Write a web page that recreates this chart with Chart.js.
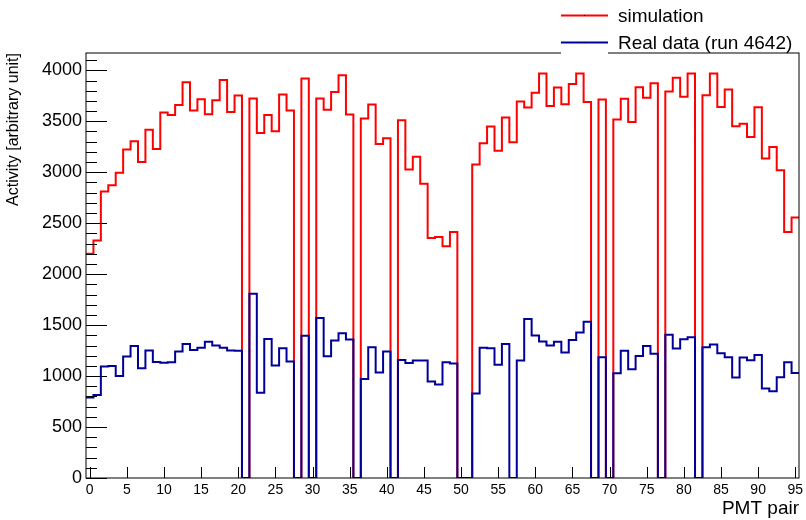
<!DOCTYPE html>
<html>
<head>
<meta charset="utf-8">
<script src="https://cdn.jsdelivr.net/npm/chart.js@4.4.1/dist/chart.umd.min.js"></script>
<style>
  html, body { margin: 0; padding: 0; background: #fff; }
  #wrap { width: 806px; height: 520px; }
</style>
</head>
<body>
<div id="wrap"><canvas id="c" width="806" height="520"></canvas></div>
<script>
// ---- data ----
const pmtPairs = [0,1,2,3,4,5,6,7,8,9,10,11,12,13,14,15,16,17,18,19,20,21,22,23,24,25,26,27,28,29,30,31,32,33,34,35,36,37,38,39,40,41,42,43,44,45,46,47,48,49,50,51,52,53,54,55,56,57,58,59,60,61,62,63,64,65,66,67,68,69,70,71,72,73,74,75,76,77,78,79,80,81,82,83,84,85,86,87,88,89,90,91,92,93,94,95];
const simulation = [2200,2330,2812,2872,2996,3222,3304,3101,3418,3229,3585,3562,3661,3883,3605,3716,3569,3706,3906,3592,3752,0,3723,3386,3562,3402,3762,3605,0,3919,0,3723,3612,3788,3952,3566,0,3527,3664,3277,3333,0,3510,3026,3153,2888,2354,2364,2275,2413,0,0,3075,3284,3448,3212,3536,3294,3694,3635,3779,3969,3651,3831,3667,3867,3969,3690,0,3713,0,3517,3720,3494,3834,3730,3873,0,3792,3926,3740,3969,0,3756,3969,3641,3811,3451,3477,3346,3638,3134,3248,3019,2413,2557];
const realData = [790,815,1094,1100,1002,1192,1294,1077,1251,1139,1130,1136,1241,1316,1257,1277,1336,1300,1277,1251,1248,0,1807,836,1365,1103,1274,1143,0,1395,0,1569,1195,1349,1421,1359,0,972,1284,1035,1241,0,1157,1129,1153,1152,946,917,1136,1123,0,0,828,1277,1274,1110,1316,0,1152,1559,1398,1339,1300,1336,1231,1353,1428,1534,0,1185,0,1028,1248,1067,1198,1294,1218,0,1405,1270,1362,1382,0,1284,1310,1225,1185,985,1182,1156,1208,877,851,988,1136,1031];
const xTickValues = [0,5,10,15,20,25,30,35,40,45,50,55,60,65,70,75,80,85,90,95];
const yTickValues = [0,500,1000,1500,2000,2500,3000,3500,4000];
const seriesLabels = ['simulation', 'Real data (run 4642)'];
const xTitle = 'PMT pair';
const yTitle = 'Activity [arbitrary unit]';

// histogram bins of width 1 centred on each PMT pair: points at the left bin edges + closing edge
function histPoints(cats, vals) {
  const pts = cats.map((c, i) => ({ x: c - 0.5, y: vals[i] }));
  pts.push({ x: cats[cats.length - 1] + 0.5, y: vals[vals.length - 1] });
  return pts;
}

const FONT = "'Liberation Sans', Arial, Helvetica, sans-serif";
const RED = '#ff0000';
const BLUE = '#000099';

const frameAndTicks = {
  id: 'frameAndTicks',
  afterDatasetsDraw(chart) {
    const { ctx, chartArea: a, scales: { x, y } } = chart;
    ctx.save();
    ctx.strokeStyle = '#000';
    ctx.lineWidth = 1;
    // y ticks (major + 4 minor per interval), drawn inward
    const ym = yTickValues;
    const step = ym[1] - ym[0];
    for (let k = 0; k < ym.length; k++) {
      for (let m = 0; m < 5; m++) {
        const v = ym[k] + m * step / 5;
        if (v > y.max) break;
        const py = Math.round(y.getPixelForValue(v)) + 0.5;
        const len = m === 0 ? 21 : 11;
        ctx.beginPath(); ctx.moveTo(a.left, py); ctx.lineTo(a.left + len, py); ctx.stroke();
      }
    }
    // x ticks, drawn inward
    xTickValues.forEach(v => {
      const px = Math.round(x.getPixelForValue(v)) + 0.5;
      ctx.beginPath(); ctx.moveTo(px, a.bottom); ctx.lineTo(px, a.bottom - 11); ctx.stroke();
    });
    // frame
    ctx.strokeRect(a.left, a.top, a.right - a.left, a.bottom - a.top);
    ctx.restore();
  },
  afterDraw(chart) {
    const { ctx } = chart;
    const ds = chart.data.datasets;
    ctx.save();
    const rows = [15.5, 42.5];
    // white marker boxes (cover the frame line under the legend markers)
    ctx.fillStyle = '#fff';
    ctx.fillRect(561, 49, 47, 7);
    ds.forEach((d, i) => {
      const yy = rows[i];
      ctx.strokeStyle = d.borderColor;
      ctx.lineWidth = 2;
      ctx.beginPath(); ctx.moveTo(561, yy); ctx.lineTo(608, yy); ctx.stroke();
      ctx.fillStyle = '#000';
      ctx.fillRect(584, Math.floor(yy), 1, 1);
      ctx.font = '19px ' + FONT;
      ctx.textAlign = 'left';
      ctx.textBaseline = 'alphabetic';
      ctx.fillText(d.label, 618, yy + 6.5);
    });
    ctx.restore();
  }
};

new Chart(document.getElementById('c'), {
  type: 'line',
  data: {
    datasets: [
      {
        label: seriesLabels[0],
        data: histPoints(pmtPairs, simulation),
        borderColor: RED,
        borderWidth: 2,
        stepped: true,
        pointRadius: 0,
        fill: false,
        order: 2
      },
      {
        label: seriesLabels[1],
        data: histPoints(pmtPairs, realData),
        borderColor: BLUE,
        borderWidth: 2,
        stepped: true,
        pointRadius: 0,
        fill: false,
        order: 1
      }
    ]
  },
  options: {
    responsive: false,
    animation: false,
    devicePixelRatio: 1,
    layout: { padding: { left: 0, right: 7, top: 53, bottom: 0 } },
    plugins: { legend: { display: false }, tooltip: { enabled: false } },
    scales: {
      x: {
        type: 'linear',
        min: -0.5,
        max: 95.5,
        grid: { display: false, drawTicks: false },
        border: { display: false },
        afterBuildTicks(s) { s.ticks = xTickValues.map(v => ({ value: v })); },
        afterFit(s) { s.height = 42; s.paddingLeft = 0; s.paddingRight = 0; },
        ticks: {
          autoSkip: false,
          maxRotation: 0,
          padding: 4,
          color: '#000',
          font: { family: FONT, size: 14 },
          callback: v => String(v)
        },
        title: {
          display: true,
          text: xTitle,
          align: 'end',
          color: '#000',
          font: { family: FONT, size: 19 },
          padding: { top: 0, bottom: 0 }
        }
      },
      y: {
        type: 'linear',
        min: 0,
        max: 4170,
        grid: { display: false, drawTicks: false },
        border: { display: false },
        afterBuildTicks(s) { s.ticks = yTickValues.map(v => ({ value: v })); },
        afterFit(s) { s.width = 86; s.paddingTop = 0; s.paddingBottom = 0; },
        ticks: {
          padding: 4,
          color: '#000',
          font: { family: FONT, size: 18 },
          callback: v => String(v)
        },
        title: {
          display: true,
          text: yTitle,
          align: 'end',
          color: '#000',
          font: { family: FONT, size: 16 },
          padding: { top: 4, bottom: 0 }
        }
      }
    }
  },
  plugins: [frameAndTicks]
});
</script>
</body>
</html>
